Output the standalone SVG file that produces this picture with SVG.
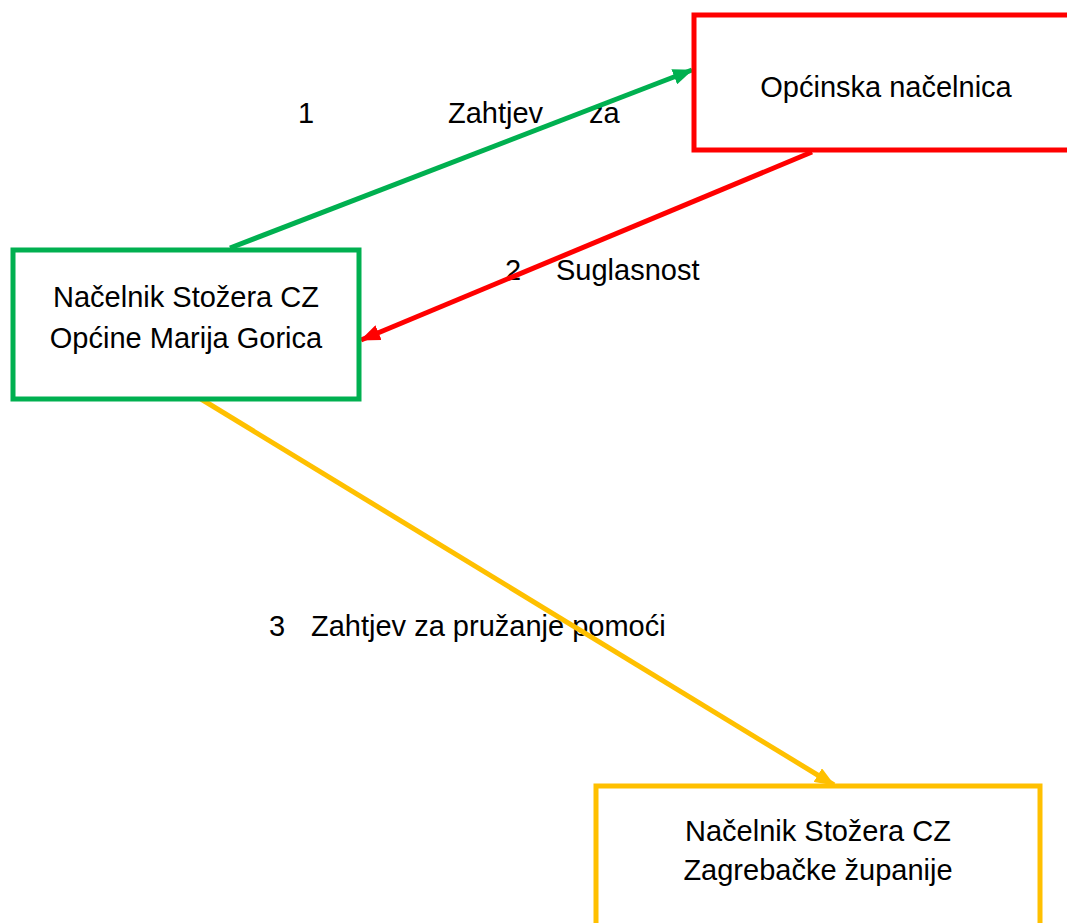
<svg xmlns="http://www.w3.org/2000/svg" width="1067" height="923" viewBox="0 0 1067 923">
<style>
text { font-family: "Liberation Sans", Arial, sans-serif; font-size: 29px; fill: #000; }
.c { text-anchor: middle; }
.box { fill: #fff; stroke-width: 5; }
.conn { stroke-width: 5; fill: none; }
</style>
<defs>
<marker id="ag" viewBox="0 0 20 16" refX="19" refY="8" markerWidth="20" markerHeight="16" markerUnits="userSpaceOnUse" orient="auto"><path d="M0,0 L20,8 L0,16 Z" fill="#00B050"/></marker>
<marker id="ar" viewBox="0 0 20 16" refX="19" refY="8" markerWidth="20" markerHeight="16" markerUnits="userSpaceOnUse" orient="auto"><path d="M0,0 L20,8 L0,16 Z" fill="#FF0000"/></marker>
<marker id="ay" viewBox="0 0 20 16" refX="19" refY="8" markerWidth="20" markerHeight="16" markerUnits="userSpaceOnUse" orient="auto"><path d="M0,0 L20,8 L0,16 Z" fill="#FFC000"/></marker>
</defs>
<rect width="1067" height="923" fill="#fff"/>
<g id="labels">
<text x="298" y="123">1</text>
<text x="448" y="123">Zahtjev</text>
<text x="589" y="123">za</text>
<text x="505" y="280">2</text>
<text x="556" y="280">Suglasnost</text>
<text x="269" y="636">3</text>
<text x="311" y="636">Zahtjev za pružanje pomoći</text>
</g>
<g id="connectors">
<line class="conn" x1="230" y1="248" x2="692" y2="70" stroke="#00B050" marker-end="url(#ag)"/>
<line class="conn" x1="812" y1="152" x2="361" y2="340" stroke="#FF0000" marker-end="url(#ar)"/>
<line class="conn" x1="201" y1="399" x2="834" y2="785" stroke="#FFC000" marker-end="url(#ay)"/>
</g>
<g id="node-opcinska">
<rect class="box" x="694" y="15" width="400" height="135" stroke="#FF0000"/>
<text class="c" x="886" y="97">Općinska načelnica</text>
</g>
<g id="node-nacelnik-opcine">
<rect class="box" x="13" y="250" width="346" height="149" stroke="#00B050"/>
<text class="c" x="186" y="307">Načelnik Stožera CZ</text>
<text class="c" x="186" y="348">Općine Marija Gorica</text>
</g>
<g id="node-nacelnik-zupanije">
<rect class="box" x="596" y="786" width="444" height="200" stroke="#FFC000"/>
<text class="c" x="818" y="841">Načelnik Stožera CZ</text>
<text class="c" x="818" y="880">Zagrebačke županije</text>
</g>
</svg>
